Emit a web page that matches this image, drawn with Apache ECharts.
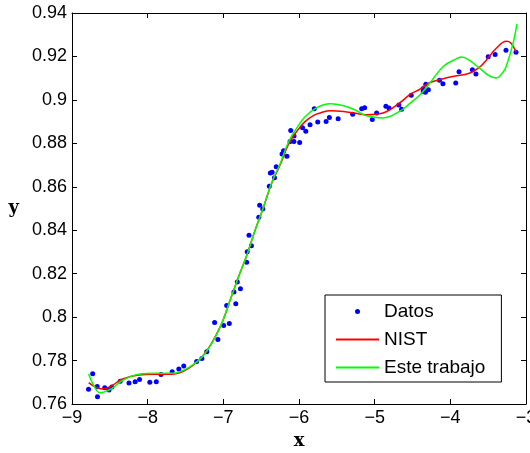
<!DOCTYPE html>
<html>
<head>
<meta charset="utf-8">
<script src="https://cdn.jsdelivr.net/npm/echarts@6/dist/echarts.min.js"></script>
<style>
html, body { margin: 0; padding: 0; background: #fff; }
#main { width: 530px; height: 453px; }
</style>
</head>
<body>
<div id="main"></div>
<script>
// 数据点 (Datos)
var datosX = [-6.860120914, -4.324130045, -4.358625055, -4.358426747, -6.955852379, -6.661145254,
	-6.355462942, -6.118102026, -7.115148017, -6.815308569, -6.519993057, -6.204119983, -5.853871964,
	-6.109523091, -5.79832982, -5.482672118, -5.171791386, -4.851705903, -4.517126416, -4.143573228,
	-3.709075441, -3.499489089, -6.300769497, -5.953504836, -5.642065153, -5.031376979, -4.680685696,
	-4.329846955, -3.928486195, -8.56735134, -8.363211311, -8.107682739, -7.823908741, -7.522878745,
	-7.218819279, -6.920818754, -6.628932138, -6.323946875, -5.991399828, -8.781464495, -8.663140179,
	-8.473531488, -8.247337057, -7.971428747, -7.676129393, -7.352812702, -7.072065318, -6.774174009,
	-6.478861916, -6.159517513, -6.835647144, -6.53165267, -6.224098421, -5.910094889, -5.598599459,
	-5.290645224, -4.974284616, -4.64454848, -4.290560426, -3.885055584, -3.408378962, -3.13200249,
	-8.726767166, -8.66695597, -8.511026475, -8.165388579, -7.886056648, -7.588043762, -7.283412422,
	-6.995678626, -6.691862621, -6.392544977, -6.067374056, -6.684029655, -6.378719832, -6.065855188,
	-5.752272167, -5.132414673, -4.811352704, -4.098269308, -3.66174277, -3.2644011];
var datosY = [0.8116, 0.9072, 0.9052, 0.9039, 0.8053, 0.8377, 0.8667, 0.8809, 0.7975, 0.8162,
	0.8515, 0.8766, 0.8885, 0.8859, 0.8959, 0.8913, 0.8959, 0.8971, 0.9021, 0.909, 0.9139, 0.9199,
	0.8692, 0.8872, 0.89, 0.891, 0.8977, 0.9035, 0.9078, 0.7675, 0.7705, 0.7713, 0.7736, 0.7775,
	0.7841, 0.7971, 0.8329, 0.8641, 0.8804, 0.7668, 0.7633, 0.7678, 0.7697, 0.77, 0.7749, 0.7796,
	0.7897, 0.8131, 0.8498, 0.8741, 0.8061, 0.846, 0.8751, 0.8856, 0.8919, 0.8934, 0.894, 0.8957,
	0.9047, 0.9129, 0.9209, 0.9219, 0.7739, 0.7681, 0.7665, 0.7703, 0.7702, 0.7761, 0.7809, 0.7961,
	0.8253, 0.8602, 0.8809, 0.8301, 0.8664, 0.8834, 0.8898, 0.8964, 0.8963, 0.9074, 0.9119, 0.9228];

// NIST 曲线
var nistX = [-8.78, -8.70, -8.60, -8.47, -8.34, -8.12, -7.90, -7.68, -7.46, -7.24, -7.04, -6.90,
	-6.80, -6.69, -6.58, -6.47, -6.36, -6.25, -6.14, -6.03, -5.92, -5.80, -5.72, -5.59, -5.41, -5.25,
	-5.11, -4.89, -4.67, -4.53, -4.40, -4.27, -4.00, -3.74, -3.60, -3.52, -3.39, -3.26, -3.20, -3.13];
var nistY = [0.7698, 0.7680, 0.7669, 0.7685, 0.7714, 0.7734, 0.7737, 0.7737, 0.7764, 0.7835, 0.7956,
	0.8088, 0.8185, 0.8285, 0.8400, 0.8505, 0.8617, 0.8700, 0.8795, 0.8855, 0.8900, 0.8930, 0.8940,
	0.8950, 0.8947, 0.8938, 0.8932, 0.8940, 0.8986, 0.9025, 0.9050, 0.9080, 0.9105, 0.9124, 0.9155,
	0.9185, 0.9239, 0.9270, 0.9262, 0.9220];

// Este trabajo 曲线
var esteX = [-8.78, -8.72, -8.63, -8.47, -8.34, -8.12, -7.90, -7.68, -7.46, -7.24, -7.04, -6.90,
	-6.80, -6.69, -6.58, -6.47, -6.36, -6.25, -6.14, -6.03, -5.92, -5.77, -5.59, -5.41, -5.25, -5.11,
	-4.89, -4.67, -4.53, -4.40, -4.27, -4.09, -3.92, -3.85, -3.76, -3.59, -3.48, -3.39, -3.30, -3.26,
	-3.17, -3.12];
var esteY = [0.7738, 0.7690, 0.7652, 0.7672, 0.7707, 0.7737, 0.7741, 0.7741, 0.7767, 0.7834, 0.7956,
	0.8088, 0.8185, 0.8285, 0.8400, 0.8507, 0.8620, 0.8705, 0.8805, 0.8870, 0.8922, 0.8963, 0.8982,
	0.8973, 0.8952, 0.8927, 0.8917, 0.8947, 0.8985, 0.9024, 0.9078, 0.9155, 0.9189, 0.9198, 0.9185,
	0.9139, 0.9110, 0.9101, 0.9130, 0.9155, 0.9262, 0.9350];

var seriesNames = ['Datos', 'NIST', 'Este trabajo'];

function pairs(xs, ys) {
	var out = [];
	for (var i = 0; i < xs.length; i++) {
		out.push([xs[i], ys[i]]);
	}
	return out;
}

var labelFont = '"Liberation Sans", Arial, Helvetica, sans-serif';
var nameFont = '"DejaVu Serif", "Liberation Serif", serif';

function tickAxis(extra) {
	var base = {
		type : 'value',
		scale : true,
		axisLine : {
			show : true,
			onZero : false,
			lineStyle : { color : '#000', width : 1 }
		},
		axisTick : {
			show : true,
			inside : true,
			length : 5,
			lineStyle : { color : '#000', width : 1 }
		},
		splitLine : { show : false }
	};
	for (var k in extra) {
		base[k] = extra[k];
	}
	return base;
}

var myChart = echarts.init(document.getElementById('main'));
var option = {
	animation : false,
	backgroundColor : '#fff',
	grid : {
		left : 72,
		right : 4,
		top : 13,
		bottom : 49,
		containLabel : false,
		outerBoundsMode : 'none'
	},
	legend : {
		// 线条图例不显示中间的点
		data : [ seriesNames[0], {
			name : seriesNames[1],
			itemStyle : { opacity : 0 }
		}, {
			name : seriesNames[2],
			itemStyle : { opacity : 0 }
		} ],
		orient : 'vertical',
		left : 325,
		top : 295,
		padding : [ 7, 16, 5, 10 ],
		itemGap : 9,
		itemWidth : 43,
		itemHeight : 5,
		backgroundColor : '#fff',
		borderColor : '#000',
		borderWidth : 1,
		borderRadius : 0,
		textStyle : {
			color : '#000',
			fontSize : 19,
			fontFamily : labelFont
		}
	},
	xAxis : [ tickAxis({
		position : 'bottom',
		min : -9,
		max : -3,
		interval : 1,
		name : 'x',
		nameLocation : 'middle',
		nameGap : 24,
		nameTextStyle : {
			color : '#000',
			fontSize : 18,
			fontWeight : 'bold',
			fontFamily : nameFont
		},
		axisLabel : {
			margin : 5,
			color : '#000',
			fontSize : 18,
			fontFamily : labelFont,
			formatter : function(v) {
				return String(v).replace('-', '\u2212');
			}
		}
	}), tickAxis({
		position : 'top',
		min : -9,
		max : -3,
		interval : 1,
		axisLabel : { show : false }
	}) ],
	yAxis : [ tickAxis({
		position : 'left',
		min : 0.76,
		max : 0.94,
		interval : 0.02,
		name : 'y',
		nameLocation : 'middle',
		nameRotate : 0,
		nameGap : 53,
		nameTextStyle : {
			color : '#000',
			fontSize : 18,
			fontWeight : 'bold',
			fontFamily : nameFont
		},
		axisLabel : {
			margin : 5,
			color : '#000',
			fontSize : 18,
			fontFamily : labelFont,
			formatter : function(v) {
				return String(parseFloat(v.toFixed(2)));
			}
		}
	}), tickAxis({
		position : 'right',
		min : 0.76,
		max : 0.94,
		interval : 0.02,
		axisLabel : { show : false }
	}) ],
	series : [ {
		name : 'Datos',
		type : 'scatter',
		symbol : 'circle',
		symbolSize : 5,
		itemStyle : { color : '#0000ff', opacity : 1 },
		data : pairs(datosX, datosY)
	}, {
		name : 'NIST',
		type : 'line',
		smooth : 0.4,
		symbol : 'none',
		lineStyle : { color : '#ff0000', width : 1.5 },
		itemStyle : { color : '#ff0000' },
		data : pairs(nistX, nistY)
	}, {
		name : 'Este trabajo',
		type : 'line',
		smooth : 0.4,
		symbol : 'none',
		lineStyle : { color : '#00ff00', width : 1.5 },
		itemStyle : { color : '#00ff00' },
		data : pairs(esteX, esteY)
	} ]
};
myChart.setOption(option);
</script>
</body>
</html>
